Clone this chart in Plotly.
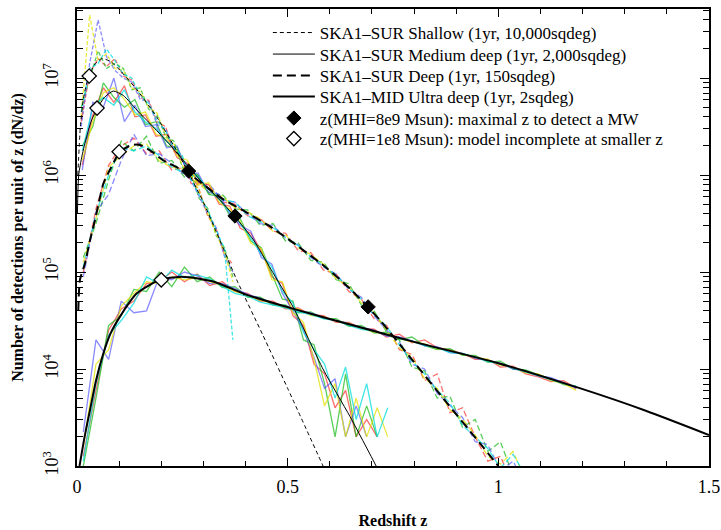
import plotly.graph_objects as go

# ---------------- model curves (log10 dN/dz) ----------------
shallow_z = [0.002, 0.008, 0.015, 0.022, 0.029, 0.04, 0.059, 0.08, 0.102, 0.142, 0.189, 0.23, 0.264, 0.30, 0.332, 0.379, 0.44, 0.50, 0.584]
shallow_l = [6.0, 6.5, 6.78, 6.93, 7.02, 7.13, 7.20, 7.17, 7.08, 6.88, 6.60, 6.30, 6.03, 5.72, 5.40, 4.92, 4.36, 3.80, 3.00]

medium_z = [0.001, 0.004, 0.012, 0.023, 0.035, 0.05, 0.065, 0.086, 0.11, 0.142, 0.18, 0.221, 0.26, 0.30, 0.335, 0.375, 0.419, 0.46, 0.514, 0.585, 0.648, 0.71]
medium_l = [5.6, 6.0, 6.2, 6.40, 6.57, 6.70, 6.80, 6.866, 6.82, 6.67, 6.50, 6.31, 6.11, 5.91, 5.76, 5.57, 5.33, 5.03, 4.63, 3.99, 3.51, 3.0]

deep_z = [0.003, 0.007, 0.019, 0.031, 0.043, 0.0625, 0.08, 0.102, 0.13, 0.15, 0.175, 0.205, 0.264, 0.34, 0.40, 0.458, 0.52, 0.593, 0.65, 0.69, 0.72, 0.80, 0.878, 0.957, 1.0]
deep_l = [4.6, 4.92, 5.09, 5.33, 5.54, 5.91, 6.07, 6.24, 6.31, 6.31, 6.25, 6.15, 6.02, 5.77, 5.62, 5.47, 5.28, 5.04, 4.82, 4.64, 4.50, 4.07, 3.65, 3.23, 3.0]

ultra_z = [0.006, 0.018, 0.031, 0.045, 0.0625, 0.08, 0.102, 0.142, 0.197, 0.245, 0.29, 0.332, 0.40, 0.514, 0.672, 0.80, 1.0, 1.195, 1.35, 1.5]
ultra_l = [3.0, 3.3, 3.58, 3.88, 4.16, 4.37, 4.54, 4.78, 4.92, 4.95, 4.93, 4.89, 4.77, 4.62, 4.43, 4.28, 4.06, 3.80, 3.57, 3.32]

# ---------------- markers ----------------
mw_z = [0.265, 0.375, 0.691]
mw_n = [1.1e6, 3.78e5, 4.37e4]
inc_z = [0.029, 0.0475, 0.10, 0.20]
inc_n = [1.05e7, 4.9e6, 1.74e6, 8.3e4]

# ---------------- simulated realisations (log10 dN/dz) ----------------
shallow_bins = [0.01, 0.03, 0.05, 0.07, 0.09, 0.11, 0.13, 0.15, 0.17, 0.19, 0.21, 0.23, 0.25, 0.27, 0.29, 0.31, 0.33, 0.35, 0.37]
shallow_red = [6.55, 7.05, 7.20, 7.12, 7.20, 7.02, 6.98, 6.80, 6.77, 6.55, 6.50, 6.25, 6.18, 5.92, 5.85, 5.58, 5.45, 5.18, 5.08]
shallow_green = [6.70, 7.00, 7.28, 7.10, 7.15, 7.10, 6.88, 6.90, 6.68, 6.62, 6.40, 6.35, 6.08, 6.02, 5.76, 5.66, 5.38, 5.25, 4.95]
shallow_blue = [6.50, 7.15, 7.60, 7.22, 7.08, 7.00, 6.96, 6.78, 6.76, 6.52, 6.48, 6.26, 6.16, 5.95, 5.78, 5.60, 5.46, 5.16, 5.00]
shallow_yellow = [6.60, 7.65, 7.18, 7.25, 7.10, 7.08, 6.90, 6.86, 6.70, 6.64, 6.42, 6.32, 6.10, 6.00, 5.84, 5.60, 5.40, 5.20, 4.90]
shallow_cyan = [6.65, 7.10, 7.15, 7.30, 7.18, 7.04, 7.00, 6.82, 6.74, 6.56, 6.46, 6.28, 6.20, 5.96, 5.80, 5.64, 5.44, 5.24, 4.30]

medium_bins = [0.0125, 0.0375, 0.0625, 0.0875, 0.1125, 0.1375, 0.1625, 0.1875, 0.2125, 0.2375,
               0.2625, 0.2875, 0.3125, 0.3375, 0.3625, 0.3875, 0.4125, 0.4375, 0.4625, 0.4875,
               0.5125, 0.5375, 0.5625, 0.5875, 0.6125, 0.6375, 0.6625, 0.6875, 0.7125, 0.7375]
medium_red = [6.10, 6.62, 6.90, 6.75, 6.92, 6.60, 6.62, 6.40, 6.42, 6.18, 6.12, 5.92, 5.90, 5.70, 5.68, 5.45, 5.40, 5.22, 4.95, 4.88, 4.55, 4.45, 4.05, 3.95, 3.60, 3.78, 3.30, 3.48, 3.30, None]
medium_green = [6.30, 6.50, 6.95, 6.80, 6.70, 6.78, 6.52, 6.55, 6.30, 6.28, 6.05, 6.00, 5.80, 5.78, 5.58, 5.55, 5.32, 5.25, 4.98, 4.72, 4.70, 4.30, 4.25, 3.85, 3.30, 3.95, 3.30, 3.62, 3.30, None]
medium_blue = [6.05, 6.75, 6.70, 7.00, 6.55, 6.72, 6.50, 6.52, 6.28, 6.30, 6.02, 6.02, 5.82, 5.80, 5.60, 5.48, 5.42, 5.15, 5.08, 4.78, 4.60, 4.40, 4.12, 3.80, 3.90, 3.30, 3.62, 3.30, None, None]
medium_yellow = [6.15, 6.55, 6.85, 6.90, 6.78, 6.62, 6.65, 6.42, 6.38, 6.20, 6.15, 5.90, 5.92, 5.72, 5.65, 5.52, 5.30, 5.24, 4.92, 4.90, 4.58, 4.48, 4.10, 3.62, 3.85, 3.30, 3.70, 3.30, 3.60, 3.30]
medium_cyan = [6.25, 6.70, 6.80, 6.72, 6.88, 6.65, 6.55, 6.48, 6.35, 6.25, 6.08, 5.98, 5.85, 5.75, 5.62, 5.50, 5.35, 5.18, 5.05, 4.80, 4.68, 4.38, 4.20, 4.05, 3.70, 4.02, 3.48, 3.85, 3.30, 3.60]

deep_bins = [0.015, 0.045, 0.075, 0.105, 0.135, 0.165, 0.195, 0.225, 0.255, 0.285, 0.315, 0.345,
             0.375, 0.405, 0.435, 0.465, 0.495, 0.525, 0.555, 0.585, 0.615, 0.645, 0.675, 0.705,
             0.735, 0.765, 0.795, 0.825, 0.855, 0.885, 0.915, 0.945, 0.975, 1.005, 1.035, 1.065]
deep_red = [5.00, 5.65, 6.10, 6.30, 6.38, 6.22, 6.25, 6.05, 6.08, 5.90, 5.88, 5.72, 5.70, 5.58, 5.55, 5.42, 5.40, 5.22, 5.20, 5.02, 4.98, 4.80, 4.72, 4.52, 4.45, 4.20, 4.15, 3.88, 3.95, 3.55, 3.60, 3.30, 3.05, 3.10, 2.80, None]
deep_green = [5.15, 5.50, 5.95, 6.35, 6.25, 6.40, 6.12, 6.15, 5.98, 6.00, 5.80, 5.80, 5.65, 5.64, 5.48, 5.50, 5.32, 5.30, 5.12, 5.10, 4.92, 4.88, 4.66, 4.60, 4.38, 4.30, 4.02, 3.98, 3.70, 3.72, 3.40, 3.48, 3.15, 3.25, 2.90, None]
deep_blue = [4.95, 5.62, 5.80, 6.15, 6.42, 6.20, 6.22, 6.12, 6.00, 5.92, 5.90, 5.74, 5.72, 5.60, 5.50, 5.48, 5.35, 5.28, 5.15, 5.05, 4.98, 4.82, 4.74, 4.55, 4.40, 4.28, 4.05, 4.00, 3.75, 3.62, 3.50, 3.25, 3.22, 2.95, 3.05, 2.80]
deep_yellow = [5.10, 5.55, 6.08, 6.20, 6.30, 6.32, 6.15, 6.08, 6.06, 5.92, 5.82, 5.78, 5.66, 5.62, 5.55, 5.42, 5.38, 5.25, 5.18, 5.08, 4.93, 4.85, 4.68, 4.58, 4.40, 4.22, 4.12, 3.90, 3.80, 3.58, 3.48, 3.32, 3.10, 3.02, 3.15, 2.85]
deep_cyan = [5.05, 5.60, 6.00, 6.28, 6.25, 6.30, 6.20, 6.08, 6.02, 5.98, 5.85, 5.75, 5.72, 5.58, 5.52, 5.46, 5.36, 5.27, 5.16, 5.06, 4.97, 4.83, 4.72, 4.56, 4.44, 4.25, 4.08, 3.95, 3.78, 3.65, 3.42, 3.30, 3.18, 2.98, 3.12, 2.90]

ultra_bins = [0.015, 0.045, 0.075, 0.105, 0.135, 0.165, 0.195, 0.225, 0.255, 0.285, 0.315, 0.345,
              0.375, 0.405, 0.435, 0.465, 0.495, 0.525, 0.555, 0.585, 0.615, 0.645, 0.675, 0.705,
              0.735, 0.765, 0.795, 0.825, 0.855, 0.885, 0.915, 0.945, 0.975, 1.005, 1.035, 1.065,
              1.095, 1.125, 1.155, 1.185]
ultra_red = [3.10, 3.78, 4.40, 4.62, 4.70, 4.88, 4.90, 5.00, 4.90, 4.98, 4.86, 4.90, 4.80, 4.78, 4.70, 4.70, 4.62, 4.63, 4.56, 4.55, 4.48, 4.48, 4.42, 4.41, 4.33, 4.36, 4.27, 4.30, 4.22, 4.20, 4.16, 4.10, 4.10, 4.02, 4.03, 3.95, 3.92, 3.87, 3.88, 3.80]
ultra_green = [3.00, 3.70, 4.45, 4.55, 4.82, 4.80, 5.00, 4.85, 5.05, 4.90, 4.95, 4.84, 4.85, 4.74, 4.74, 4.66, 4.66, 4.58, 4.59, 4.52, 4.52, 4.44, 4.45, 4.37, 4.38, 4.30, 4.33, 4.24, 4.20, 4.21, 4.14, 4.14, 4.07, 4.08, 4.00, 3.99, 3.94, 3.90, 3.84, 3.82]
ultra_blue = [3.35, 4.30, 4.10, 4.70, 4.58, 4.60, 4.95, 4.92, 5.00, 4.96, 4.88, 4.88, 4.83, 4.77, 4.73, 4.67, 4.65, 4.60, 4.58, 4.53, 4.50, 4.47, 4.43, 4.40, 4.34, 4.33, 4.29, 4.24, 4.23, 4.17, 4.16, 4.11, 4.09, 4.06, 4.00, 3.98, 3.93, 3.91, 3.86, 3.80]
ultra_yellow = [3.20, 4.05, 4.20, 4.65, 4.78, 4.90, 4.88, 4.95, 4.92, 4.94, 4.90, 4.86, 4.80, 4.76, 4.71, 4.68, 4.63, 4.62, 4.55, 4.54, 4.49, 4.47, 4.42, 4.38, 4.36, 4.31, 4.28, 4.26, 4.21, 4.19, 4.15, 4.12, 4.10, 4.04, 4.02, 3.96, 3.95, 3.88, 3.85, 3.78]
ultra_cyan = [3.05, 3.85, 4.35, 4.50, 4.68, 4.95, 4.88, 5.02, 4.94, 4.97, 4.93, 4.85, 4.78, 4.75, 4.69, 4.66, 4.63, 4.59, 4.56, 4.52, 4.50, 4.45, 4.41, 4.39, 4.35, 4.31, 4.29, 4.24, 4.22, 4.17, 4.16, 4.12, 4.08, 4.05, 4.01, 3.97, 3.93, 3.89, 3.85, 3.82]

legend_names = ["SKA1\u2013SUR Shallow (1yr, 10,000sqdeg)",
                "SKA1\u2013SUR Medium deep (1yr, 2,000sqdeg)",
                "SKA1\u2013SUR Deep (1yr, 150sqdeg)",
                "SKA1\u2013MID Ultra deep (1yr, 2sqdeg)",
                "z(MHI=8e9 Msun): maximal z to detect a MW",
                "z(MHI=1e8 Msun): model incomplete at smaller z"]

colors = {"red": "rgba(255,30,30,0.65)", "green": "rgba(20,185,20,0.7)", "blue": "rgba(60,60,255,0.6)",
          "yellow": "rgba(225,225,0,0.75)", "cyan": "rgba(0,220,220,0.75)"}


def tolin(vals):
    return [None if v is None else 10 ** v for v in vals]


fig = go.Figure()

sims = [
    (ultra_bins, {"red": ultra_red, "green": ultra_green, "blue": ultra_blue, "yellow": ultra_yellow, "cyan": ultra_cyan}, "solid"),
    (deep_bins, {"red": deep_red, "green": deep_green, "blue": deep_blue, "yellow": deep_yellow, "cyan": deep_cyan}, "6px,3px"),
    (medium_bins, {"red": medium_red, "green": medium_green, "blue": medium_blue, "yellow": medium_yellow, "cyan": medium_cyan}, "solid"),
    (shallow_bins, {"red": shallow_red, "green": shallow_green, "blue": shallow_blue, "yellow": shallow_yellow, "cyan": shallow_cyan}, "4px,2px"),
]
for bins, series, dash in sims:
    for cname in ["red", "green", "blue", "yellow", "cyan"]:
        vals = series[cname]
        fig.add_trace(go.Scatter(x=bins[:len(vals)], y=tolin(vals), mode="lines",
                                 line=dict(color=colors[cname], width=1.3, dash=dash),
                                 showlegend=False, hoverinfo="skip", connectgaps=False))

legend_ids = ["legend", "legend2", "legend3", "legend4", "legend5", "legend6"]

models = [
    (shallow_z, shallow_l, 1.0, "4px,3px"),
    (medium_z, medium_l, 1.0, "solid"),
    (deep_z, deep_l, 2.0, "9px,5px"),
    (ultra_z, ultra_l, 2.0, "solid"),
]
for (zz, ll, w, dash), name, lg in zip(models, legend_names[:4], legend_ids[:4]):
    fig.add_trace(go.Scatter(x=zz, y=tolin(ll), mode="lines", name=name, legend=lg,
                             line=dict(color="black", width=w, dash=dash, shape="spline", smoothing=0.6)))

fig.add_trace(go.Scatter(x=mw_z, y=mw_n, mode="markers", name=legend_names[4], legend=legend_ids[4],
                         marker=dict(symbol="diamond", size=11, color="black", line=dict(color="black", width=1))))
fig.add_trace(go.Scatter(x=inc_z, y=inc_n, mode="markers", name=legend_names[5], legend=legend_ids[5],
                         marker=dict(symbol="diamond", size=11, color="white", line=dict(color="black", width=1.3))))

font = "Liberation Serif, Times New Roman, serif"
minor_y = [m * 10 ** e for e in range(3, 8) for m in range(2, 10) if m * 10 ** e <= 5.2e7]

legend_rows = [0.9475, 0.9004, 0.8534, 0.8074, 0.7604, 0.7155]
legend_layout = {}
for lg, yy in zip(legend_ids, legend_rows):
    legend_layout[lg] = dict(x=0.302, y=yy, xanchor="left", yanchor="middle", bgcolor="rgba(0,0,0,0)",
                             font=dict(family=font, size=17, color="black"), itemwidth=42, borderwidth=0)

fig.update_layout(
    width=721, height=530,
    margin=dict(l=77, r=12, t=9, b=64, autoexpand=False),
    paper_bgcolor="white", plot_bgcolor="white",
    font=dict(family=font, color="black", size=16),
    xaxis=dict(range=[0, 1.5], showgrid=False, zeroline=False, showline=True, linecolor="black", linewidth=1.5,
               mirror="allticks", ticks="inside", ticklen=8, tickwidth=1, tickcolor="black", automargin=False,
               tickvals=[0, 0.5, 1, 1.5], ticktext=["0", "0.5", "1", "1.5"], ticklabeloverflow="allow",
               tickfont=dict(family=font, size=18), ticklabelstandoff=4,
               minor=dict(dtick=0.1, ticks="inside", ticklen=5, tickwidth=1, tickcolor="black", showgrid=False),
               title=dict(text="<b>Redshift z</b>", font=dict(family=font, size=16), standoff=18)),
    yaxis=dict(type="log", range=[3, 7.712], showgrid=False, zeroline=False, showline=True, linecolor="black",
               linewidth=1.5, mirror="allticks", ticks="inside", ticklen=9, tickwidth=1, tickcolor="black",
               automargin=False, ticklabeloverflow="allow",
               tickvals=[1e3, 1e4, 1e5, 1e6, 1e7],
               ticktext=["10<sup>3</sup>", "10<sup>4</sup>", "10<sup>5</sup>", "10<sup>6</sup>", "10<sup>7</sup>"],
               tickangle=-90, tickfont=dict(family=font, size=18), ticklabelstandoff=10,
               minor=dict(tickvals=minor_y, ticks="inside", ticklen=6, tickwidth=1, tickcolor="black", showgrid=False),
               title=dict(text="<b>Number of detections per unit of z (dN/dz)</b>", font=dict(family=font, size=16), standoff=12)),
    **legend_layout,
)

fig.write_html("out.html", config={"displayModeBar": False},
               post_script="document.body.style.margin='0px'; document.body.style.overflow='hidden';")
